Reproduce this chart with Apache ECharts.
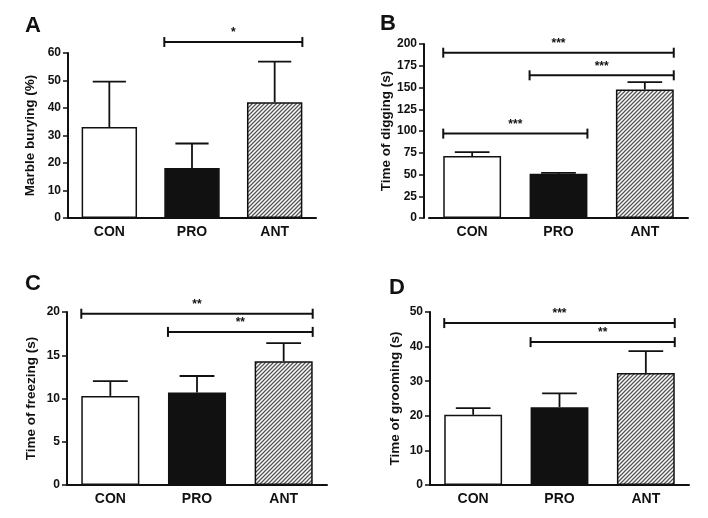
<!DOCTYPE html>
<html lang="en">
<head>
    <meta charset="UTF-8">
    <title>Behaviour tests</title>
    <script src="https://cdn.jsdelivr.net/npm/echarts@6/dist/echarts.min.js"></script>
</head>
<body style="margin:0;background:#fff">
<style>
    html, body {
        width: 708px;
        height: 518px;
    }
    #main {
        width: 708px;
        height: 518px;
    }
</style>
<div id="main"></div>
<script type="text/javascript">
    // data (mean and error above the mean)
    var groups = ['CON', 'PRO', 'ANT']

    var buryMean = [33.1, 18.2, 42.1]
    var buryErr = [16.5, 8.9, 14.8]
    var digMean = [71.2, 50.8, 147.7]
    var digErr = [4.6, 1.1, 8.5]
    var freezeMean = [10.3, 10.7, 14.3]
    var freezeErr = [1.7, 1.9, 2.1]
    var groomMean = [20.3, 22.5, 32.4]
    var groomErr = [1.9, 4.0, 6.3]

    // significance brackets: [from group, to group, height, stars]
    var buryStars = [[1, 2, 64, '*']]
    var digStars = [[0, 2, 190, '***'], [1, 2, 164, '***'], [0, 1, 97, '***']]
    var freezeStars = [[0, 2, 19.8, '**'], [1, 2, 17.7, '**']]
    var groomStars = [[0, 2, 46.8, '***'], [1, 2, 41.3, '**']]

    var yTitles = ['Marble burying (%)', 'Time of digging (s)', 'Time of freezing (s)', 'Time of grooming (s)']
    var yMax = [60, 200, 20, 50]
    var yStep = [10, 25, 5, 10]
    var letters = ['A', 'B', 'C', 'D']

    var font = 'Liberation Sans, Arial, sans-serif'

    // hatch for the ANT bars
    function hatch() {
        var c = document.createElement('canvas')
        c.width = 4
        c.height = 4
        var ctx = c.getContext('2d')
        ctx.fillStyle = '#fff'
        ctx.fillRect(0, 0, 4, 4)
        ctx.strokeStyle = '#555'
        ctx.lineWidth = 1.3
        ctx.beginPath()
        ctx.moveTo(-1, 5); ctx.lineTo(5, -1)
        ctx.moveTo(-1, 1); ctx.lineTo(1, -1)
        ctx.moveTo(3, 5); ctx.lineTo(5, 3)
        ctx.stroke()
        return c
    }
    var hatchFill = {image: hatch(), repeat: 'repeat'}
    var barFills = ['#fff', '#111', hatchFill]

    var grids = [
        {left: 68, right: 392, top: 53, bottom: 300},
        {left: 429, right: 20, top: 44, bottom: 300},
        {left: 67, right: 381, top: 312, bottom: 33},
        {left: 430, right: 19, top: 312, bottom: 33}
    ]
    var letterPos = [[25, 15], [380, 13], [25, 273], [389, 277]]
    var nameGaps = [31, 31, 29, 28]

    var means = [buryMean, digMean, freezeMean, groomMean]
    var errs = [buryErr, digErr, freezeErr, groomErr]
    var stars = [buryStars, digStars, freezeStars, groomStars]

    var option = {
        animation: false,
        backgroundColor: '#fff',
        grid: grids,
        xAxis: [],
        yAxis: [],
        series: [],
        graphic: []
    }

    for (var i = 0; i < 4; i++) {
        option.xAxis.push({
            type: 'category',
            gridIndex: i,
            data: groups,
            axisTick: {show: false},
            axisLine: {lineStyle: {color: '#111', width: 2}},
            axisLabel: {color: '#111', fontWeight: 'bold', fontSize: 14, fontFamily: font, margin: 7}
        })
        option.yAxis.push({
            type: 'value',
            gridIndex: i,
            min: 0,
            max: yMax[i],
            interval: yStep[i],
            offset: i === 1 ? 5 : 0,
            name: yTitles[i],
            nameLocation: 'middle',
            nameRotate: 90,
            nameGap: nameGaps[i],
            nameTextStyle: {color: '#111', fontWeight: 'bold', fontSize: 13.5, fontFamily: font},
            splitLine: {show: false},
            axisLine: {show: true, lineStyle: {color: '#111', width: 2}},
            axisTick: {show: true, length: 5, lineStyle: {color: '#111', width: 1.5}},
            axisLabel: {color: '#111', fontWeight: 'bold', fontSize: 12, fontFamily: font, margin: 7}
        })
        option.series.push({
            type: 'bar',
            xAxisIndex: i,
            yAxisIndex: i,
            barWidth: '67%',
            data: means[i].map((v, k) => ({
                value: v,
                itemStyle: {color: barFills[k], borderColor: '#111', borderWidth: 1.5}
            }))
        })
        // error bars
        option.series.push({
            type: 'custom',
            xAxisIndex: i,
            yAxisIndex: i,
            z: 3,
            data: means[i].map((v, k) => [k, v, v + errs[i][k]]),
            encode: {x: 0, y: 2},
            renderItem: function (params, api) {
                var p0 = api.coord([api.value(0), api.value(1)])
                var p1 = api.coord([api.value(0), api.value(2)])
                var half = api.size([1, 0])[0] * 0.67 * 0.3
                var st = {stroke: '#111', lineWidth: 1.8}
                return {
                    type: 'group',
                    children: [
                        {type: 'line', shape: {x1: p0[0], y1: p0[1], x2: p1[0], y2: p1[1]}, style: st},
                        {type: 'line', shape: {x1: p1[0] - half, y1: p1[1], x2: p1[0] + half, y2: p1[1]}, style: st}
                    ]
                }
            }
        })
        // significance brackets
        var sig = stars[i]
        option.series.push({
            type: 'custom',
            xAxisIndex: i,
            yAxisIndex: i,
            clip: false,
            z: 4,
            data: sig.map(s => [s[0], s[1], s[2]]),
            encode: {x: 0, y: 2},
            renderItem: (function (sig) {
                return function (params, api) {
                    var a = api.coord([api.value(0), api.value(2)])
                    var b = api.coord([api.value(1), api.value(2)])
                    var hb = api.size([1, 0])[0] * 0.67 / 2
                    var x1 = a[0] - hb, x2 = b[0] + hb, y = a[1]
                    var st = {stroke: '#111', lineWidth: 2}
                    return {
                        type: 'group',
                        children: [
                            {type: 'line', shape: {x1: x1, y1: y, x2: x2, y2: y}, style: st},
                            {type: 'line', shape: {x1: x1, y1: y - 5, x2: x1, y2: y + 5}, style: st},
                            {type: 'line', shape: {x1: x2, y1: y - 5, x2: x2, y2: y + 5}, style: st},
                            {
                                type: 'text',
                                x: (x1 + x2) / 2,
                                y: y - 3,
                                style: {
                                    text: sig[params.dataIndex][3],
                                    fill: '#111',
                                    font: 'bold 12px ' + font,
                                    align: 'center',
                                    verticalAlign: 'bottom'
                                }
                            }
                        ]
                    }
                }
            })(sig)
        })
        option.graphic.push({
            type: 'text',
            left: letterPos[i][0],
            top: letterPos[i][1],
            style: {text: letters[i], fill: '#111', font: 'bold 22px ' + font}
        })
    }

    var myChart = echarts.init(document.getElementById('main'))
    myChart.setOption(option)
</script>
</body>
</html>
